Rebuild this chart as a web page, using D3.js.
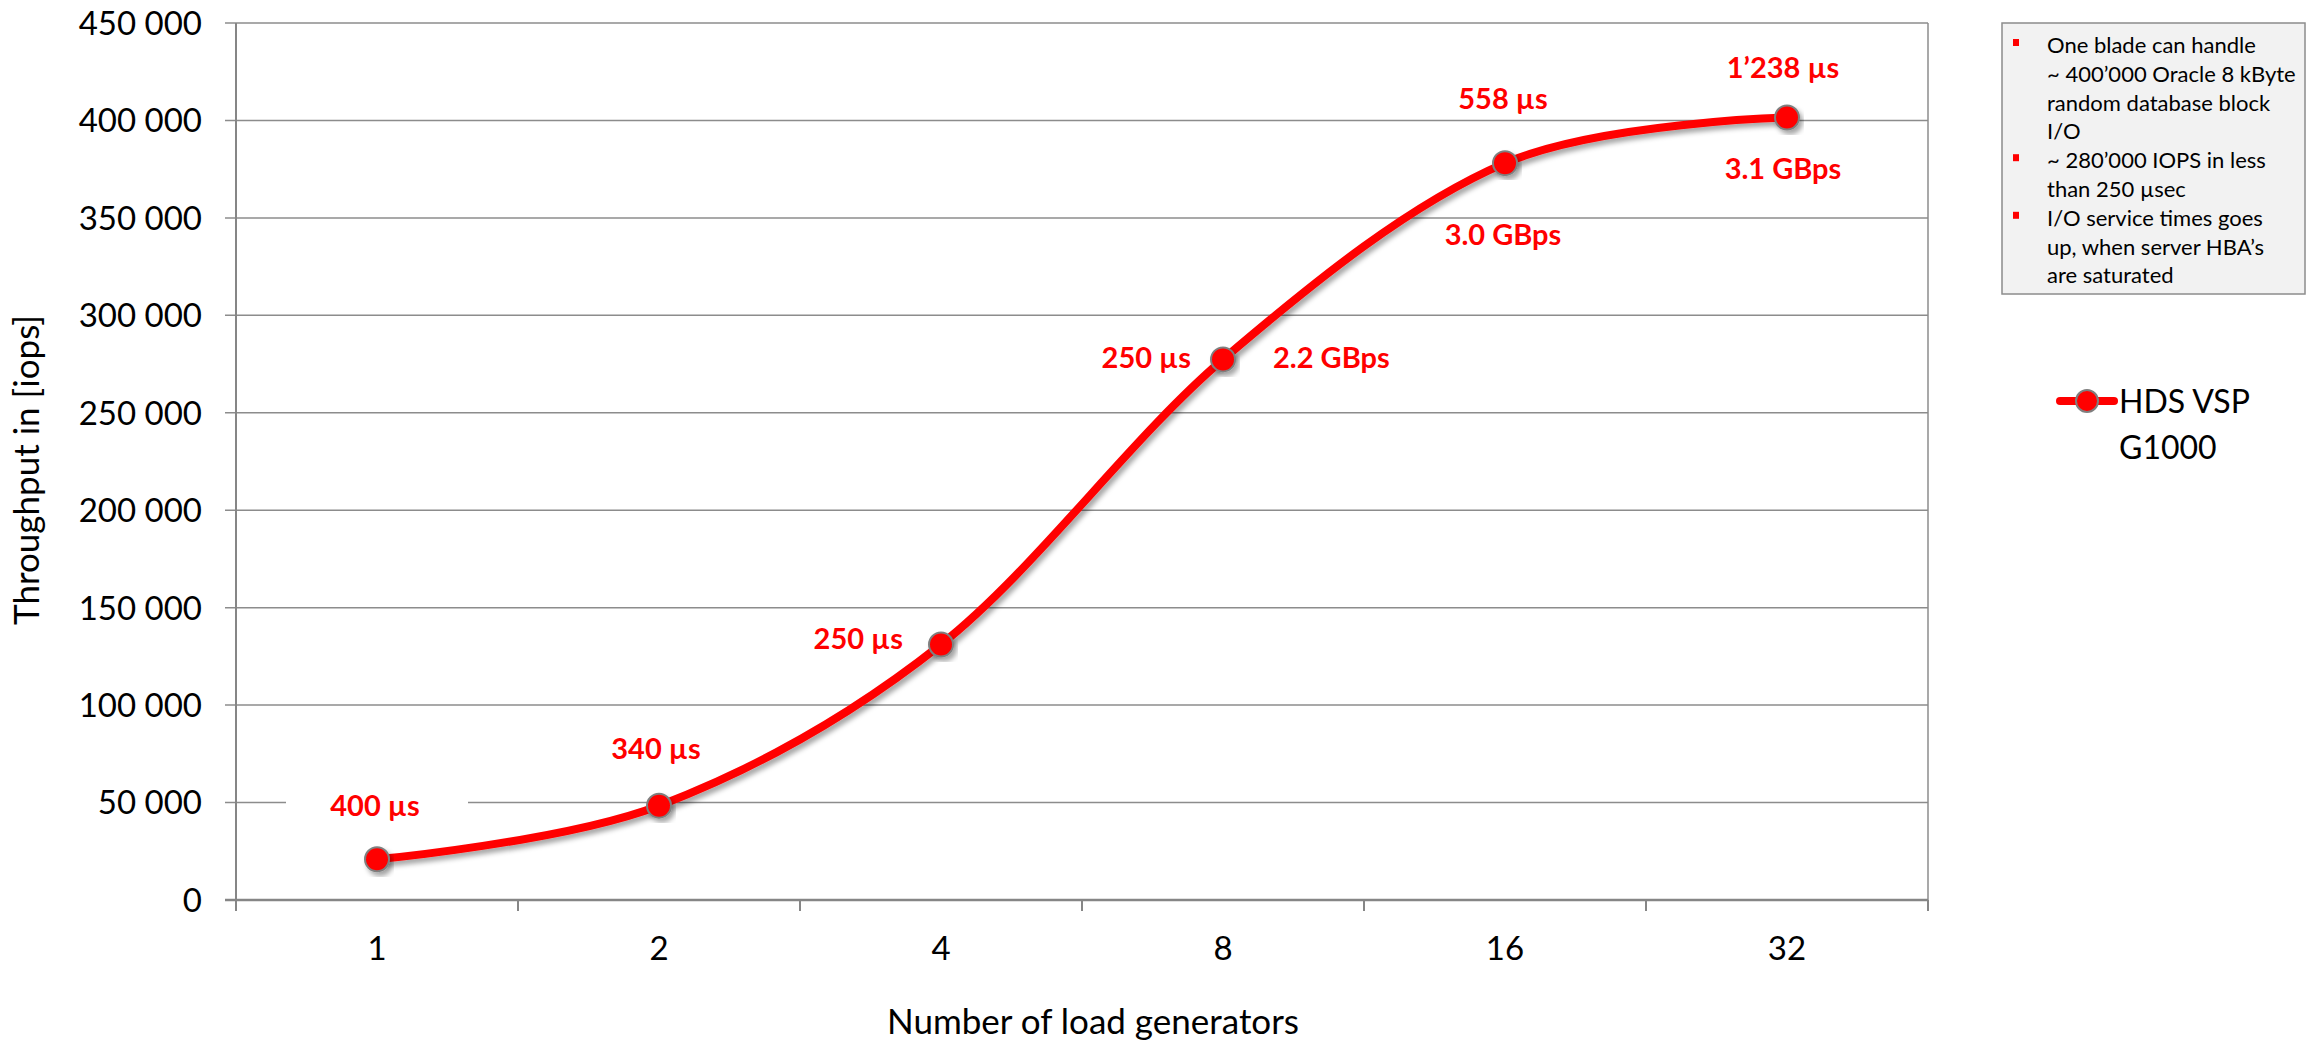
<!DOCTYPE html>
<html>
<head>
<meta charset="utf-8">
<script src="https://cdn.jsdelivr.net/npm/d3@7"></script>
<style>
  body { margin: 0; background: #fff; }
  text { font-family: Lato, "Open Sans", sans-serif; }
</style>
</head>
<body>
<script>
// data
var categories = ["1", "2", "4", "8", "16", "32"];
var iops = [20900, 48400, 131100, 277400, 378100, 401500];
var latencyLabels = ["400 µs", "340 µs", "250 µs", "250 µs", "558 µs", "1’238 µs"];
var bandwidthLabels = ["", "", "", "2.2 GBps", "3.0 GBps", "3.1 GBps"];
var yTicks = [0, 50000, 100000, 150000, 200000, 250000, 300000, 350000, 400000, 450000];
var seriesName = ["HDS VSP", "G1000"];
var notes = [
  ["One blade can handle", "~ 400’000 Oracle 8 kByte", "random database block", "I/O"],
  ["~ 280’000 IOPS in less", "than 250 µsec"],
  ["I/O service times goes", "up, when server HBA’s", "are saturated"]
];

var W = 2315, H = 1043;
var plotLeft = 236, plotRight = 1928, plotTop = 23, plotBottom = 900;

var svg = d3.select("body").append("svg")
            .attr("width", W)
            .attr("height", H);

var defs = svg.append("defs");
var shadow = defs.append("filter").attr("id", "shadow")
                 .attr("x", "-20%").attr("y", "-20%")
                 .attr("width", "140%").attr("height", "140%");
shadow.append("feDropShadow")
      .attr("dx", 3).attr("dy", 4)
      .attr("stdDeviation", 2.5)
      .attr("flood-color", "#000")
      .attr("flood-opacity", 0.35);

var x = d3.scalePoint().domain(categories).range([plotLeft, plotRight]).padding(0.5);
var y = d3.scaleLinear().domain([0, 450000]).range([plotBottom, plotTop]);

var locale = d3.formatLocale({ decimal: ".", thousands: " ", grouping: [3], currency: ["", ""] });
var fmt = locale.format(",");

// gridlines + y tick marks
svg.append("g").selectAll("line").data(yTicks).enter().append("line")
   .attr("x1", plotLeft - 11).attr("x2", plotRight)
   .attr("y1", d => y(d)).attr("y2", d => y(d))
   .style("stroke", "#8c8c8c")
   .style("stroke-width", 1.5);

// right border of plot
svg.append("line")
   .attr("x1", plotRight).attr("x2", plotRight)
   .attr("y1", plotTop).attr("y2", plotBottom)
   .style("stroke", "#8c8c8c").style("stroke-width", 1.5);

// y axis labels
svg.append("g").selectAll("text").data(yTicks).enter().append("text")
   .attr("x", 202)
   .attr("y", d => y(d))
   .attr("dy", "0.36em")
   .attr("text-anchor", "end")
   .style("font-size", "33px")
   .style("fill", "#000")
   .text(d => fmt(d));

// axes lines
svg.append("line")
   .attr("x1", plotLeft).attr("x2", plotLeft)
   .attr("y1", plotTop).attr("y2", plotBottom + 11)
   .style("stroke", "#868686").style("stroke-width", 2);
svg.append("line")
   .attr("x1", plotLeft - 11).attr("x2", plotRight)
   .attr("y1", plotBottom).attr("y2", plotBottom)
   .style("stroke", "#868686").style("stroke-width", 2.5);

// category boundary ticks
var step = x.step();
svg.append("g").selectAll("line").data(d3.range(categories.length + 1)).enter().append("line")
   .attr("x1", i => plotLeft + i * step).attr("x2", i => plotLeft + i * step)
   .attr("y1", plotBottom).attr("y2", plotBottom + 11)
   .style("stroke", "#868686").style("stroke-width", 2);

// x labels
svg.append("g").selectAll("text").data(categories).enter().append("text")
   .attr("x", d => x(d))
   .attr("y", 960)
   .attr("text-anchor", "middle")
   .style("font-size", "33px")
   .text(d => d);

// axis titles
svg.append("text")
   .attr("x", 1093).attr("y", 1034)
   .attr("text-anchor", "middle")
   .style("font-size", "35px")
   .text("Number of load generators");

svg.append("text")
   .attr("transform", "translate(39,470) rotate(-90)")
   .attr("text-anchor", "middle")
   .style("font-size", "35px")
   .text("Throughput in [iops]");

// series line
var pts = categories.map((c, i) => [x(c), y(iops[i])]);
var line = d3.line().curve(d3.curveCatmullRom.alpha(0));

svg.append("path")
   .attr("d", line(pts))
   .style("fill", "none")
   .style("stroke", "#ff0000")
   .style("stroke-width", 8)
   .style("stroke-linecap", "round")
   .attr("filter", "url(#shadow)");

svg.append("g").selectAll("circle").data(pts).enter().append("circle")
   .attr("cx", d => d[0]).attr("cy", d => d[1])
   .attr("r", 12)
   .style("fill", "#ff0000")
   .style("stroke", "#7f7f7f")
   .style("stroke-width", 2)
   .attr("filter", "url(#shadow)");

// data labels (placement per point)
var latPlace = [
  { dx: -2, dy: -54, anchor: "middle" },
  { dx: -3, dy: -57, anchor: "middle" },
  { dx: -38, dy: -6, anchor: "end" },
  { dx: -32, dy: -2, anchor: "end" },
  { dx: -2, dy: -65, anchor: "middle" },
  { dx: -4, dy: -50, anchor: "middle" }
];
var bwPlace = [null, null, null,
  { dx: 50, dy: -2, anchor: "start" },
  { dx: -2, dy: 71, anchor: "middle" },
  { dx: -4, dy: 51, anchor: "middle" }
];

// white box behind first label
svg.append("rect")
   .attr("x", 286).attr("y", pts[0][1] + latPlace[0].dy - 18)
   .attr("width", 182).attr("height", 36)
   .style("fill", "#fff");

svg.append("g").selectAll("text").data(latencyLabels).enter().append("text")
   .attr("x", (d, i) => pts[i][0] + latPlace[i].dx)
   .attr("y", (d, i) => pts[i][1] + latPlace[i].dy)
   .attr("dy", "0.36em")
   .attr("text-anchor", (d, i) => latPlace[i].anchor)
   .style("font-size", "29px")
   .style("font-weight", "bold")
   .style("fill", "#ff0000")
   .text(d => d);

var bwData = bandwidthLabels.map((t, i) => ({ t: t, i: i })).filter(d => d.t !== "");
svg.append("g").selectAll("text").data(bwData).enter().append("text")
   .attr("x", d => pts[d.i][0] + bwPlace[d.i].dx)
   .attr("y", d => pts[d.i][1] + bwPlace[d.i].dy)
   .attr("dy", "0.36em")
   .attr("text-anchor", d => bwPlace[d.i].anchor)
   .style("font-size", "29px")
   .style("font-weight", "bold")
   .style("fill", "#ff0000")
   .text(d => d.t);

// notes box
svg.append("rect")
   .attr("x", 2002).attr("y", 23)
   .attr("width", 303).attr("height", 271)
   .style("fill", "#f2f2f2")
   .style("stroke", "#8c8c8c")
   .style("stroke-width", 1.5);

var lineY = 45;
notes.forEach(function(group) {
  svg.append("rect")
     .attr("x", 2013).attr("y", lineY - 6)
     .attr("width", 6).attr("height", 7)
     .style("fill", "#ff0000");
  group.forEach(function(t) {
    svg.append("text")
       .attr("x", 2047).attr("y", lineY)
       .attr("dy", "0.36em")
       .style("font-size", "22px")
       .style("fill", "#000")
       .text(t);
    lineY += 28.8;
  });
});

// legend
svg.append("line")
   .attr("x1", 2060).attr("x2", 2114)
   .attr("y1", 401).attr("y2", 401)
   .style("stroke", "#ff0000").style("stroke-width", 8)
   .style("stroke-linecap", "round");
svg.append("circle")
   .attr("cx", 2087).attr("cy", 401).attr("r", 11)
   .style("fill", "#ff0000")
   .style("stroke", "#7f7f7f").style("stroke-width", 2);
svg.append("g").selectAll("text").data(seriesName).enter().append("text")
   .attr("x", 2119)
   .attr("y", (d, i) => 401 + i * 46)
   .attr("dy", "0.36em")
   .style("font-size", "32px")
   .text(d => d);
</script>
</body>
</html>
